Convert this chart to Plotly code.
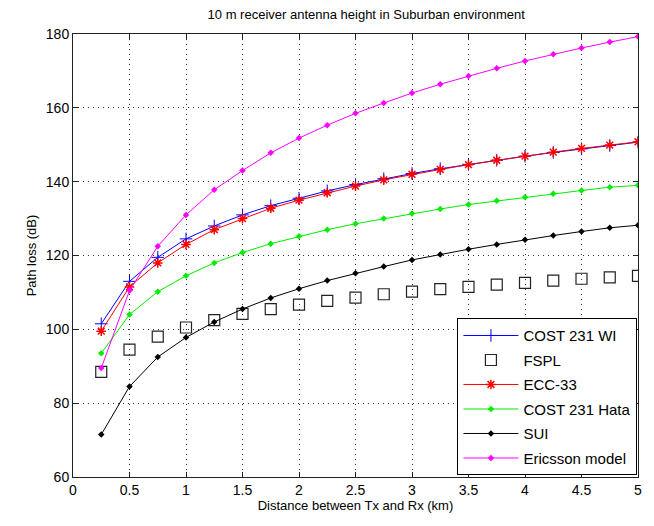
import plotly.graph_objects as go

distance = [0.25, 0.5, 0.75, 1.0, 1.25, 1.5, 1.75, 2.0, 2.25, 2.5,
            2.75, 3.0, 3.25, 3.5, 3.75, 4.0, 4.25, 4.5, 4.75, 5.0]

cost231_wi = [101.5, 113.0, 119.5, 124.5, 128.0, 131.0, 133.5, 135.5, 137.5, 139.2,
              140.8, 142.2, 143.5, 144.7, 145.8, 146.9, 147.9, 148.9, 149.8, 150.7]
fspl = [88.5, 94.5, 98.0, 100.5, 102.5, 104.2, 105.5, 106.7, 107.7, 108.6,
        109.5, 110.2, 110.9, 111.5, 112.1, 112.6, 113.2, 113.7, 114.1, 114.5]
ecc33 = [99.5, 111.5, 118.0, 123.0, 127.0, 130.0, 132.8, 135.0, 137.0, 138.8,
         140.5, 142.0, 143.3, 144.6, 145.8, 146.9, 148.0, 149.0, 149.9, 150.8]
cost231_hata = [93.5, 104.0, 110.2, 114.5, 118.0, 120.8, 123.2, 125.2, 127.0, 128.6,
                130.0, 131.4, 132.6, 133.8, 134.8, 135.8, 136.7, 137.6, 138.5, 139.0]
sui = [71.5, 84.5, 92.5, 97.8, 102.0, 105.5, 108.5, 111.0, 113.2, 115.2,
       117.0, 118.8, 120.3, 121.7, 123.0, 124.3, 125.4, 126.5, 127.5, 128.2]
ericsson = [89.5, 110.5, 122.5, 131.0, 137.8, 143.0, 147.8, 151.8, 155.3, 158.5,
            161.3, 164.0, 166.4, 168.6, 170.7, 172.7, 174.5, 176.2, 177.8, 179.3]

x_ticks = [0, 0.5, 1, 1.5, 2, 2.5, 3, 3.5, 4, 4.5, 5]
x_tick_labels = ["0", "0.5", "1", "1.5", "2", "2.5", "3", "3.5", "4", "4.5", "5"]
y_ticks = [60, 80, 100, 120, 140, 160, 180]

fig = go.Figure()
fig.add_trace(go.Scatter(
    x=distance, y=cost231_wi, name="COST 231 WI", mode="lines+markers", legendgroup="a",
    line=dict(color="#0000ff", width=1),
    marker=dict(symbol="cross-thin", size=9, color="#0000ff",
                line=dict(color="#0000ff", width=1))))
fig.add_trace(go.Scatter(
    x=distance, y=fspl, name="FSPL", mode="markers", legendgroup="b",
    marker=dict(symbol="square-open", size=11, color="#222222",
                line=dict(color="#222222", width=1.2))))
fig.add_trace(go.Scatter(
    x=distance, y=ecc33, name="ECC-33", mode="lines+markers", legendgroup="c",
    line=dict(color="#ff0000", width=1),
    marker=dict(symbol="asterisk", size=8, color="#ff0000",
                line=dict(color="#ff0000", width=1.5))))
fig.add_trace(go.Scatter(
    x=distance, y=cost231_hata, name="COST 231 Hata", mode="lines+markers", legendgroup="d",
    line=dict(color="#00ee00", width=1),
    marker=dict(symbol="diamond", size=5, color="#00ee00")))
fig.add_trace(go.Scatter(
    x=distance, y=sui, name="SUI", mode="lines+markers", legendgroup="e",
    line=dict(color="#000000", width=1),
    marker=dict(symbol="diamond", size=5, color="#000000")))
fig.add_trace(go.Scatter(
    x=distance, y=ericsson, name="Ericsson model", mode="lines+markers", legendgroup="f",
    line=dict(color="#ff00ff", width=1),
    marker=dict(symbol="diamond", size=5, color="#ff00ff")))

axis_common = dict(
    showline=True, linecolor="#222222", linewidth=1, mirror="ticks",
    ticks="inside", ticklen=5, tickcolor="#222222",
    showgrid=True, gridcolor="#333333", gridwidth=1, griddash="1px,4px",
    zeroline=False, tickfont=dict(size=14, color="#000000"),
)

fig.update_xaxes(range=[0, 5], tickvals=x_ticks, ticktext=x_tick_labels,
                 title=dict(text="Distance between Tx and Rx (km)", font=dict(size=13, color="#000000"), standoff=3),
                 **axis_common)
fig.update_yaxes(range=[60, 180], tickvals=y_ticks,
                 title=dict(text="Path loss (dB)", font=dict(size=13, color="#000000"), standoff=6),
                 **axis_common)

fig.update_layout(
    width=654, height=526,
    margin=dict(l=73, r=13, t=34, b=49),
    paper_bgcolor="#ffffff", plot_bgcolor="#ffffff",
    font=dict(family="Liberation Sans, Arial, sans-serif", color="#000000"),
    title=dict(text="10 m receiver antenna height in Suburban environment",
               x=0.56, xanchor="center", y=0.973, yanchor="middle",
               font=dict(size=13, color="#000000")),
    legend=dict(x=0.999, y=0.004, xanchor="right", yanchor="bottom",
                bgcolor="#ffffff", bordercolor="#000000", borderwidth=1,
                font=dict(size=15, color="#000000"), tracegroupgap=2,
                itemwidth=55),
    showlegend=True,
)

fig.write_html("out.html")
